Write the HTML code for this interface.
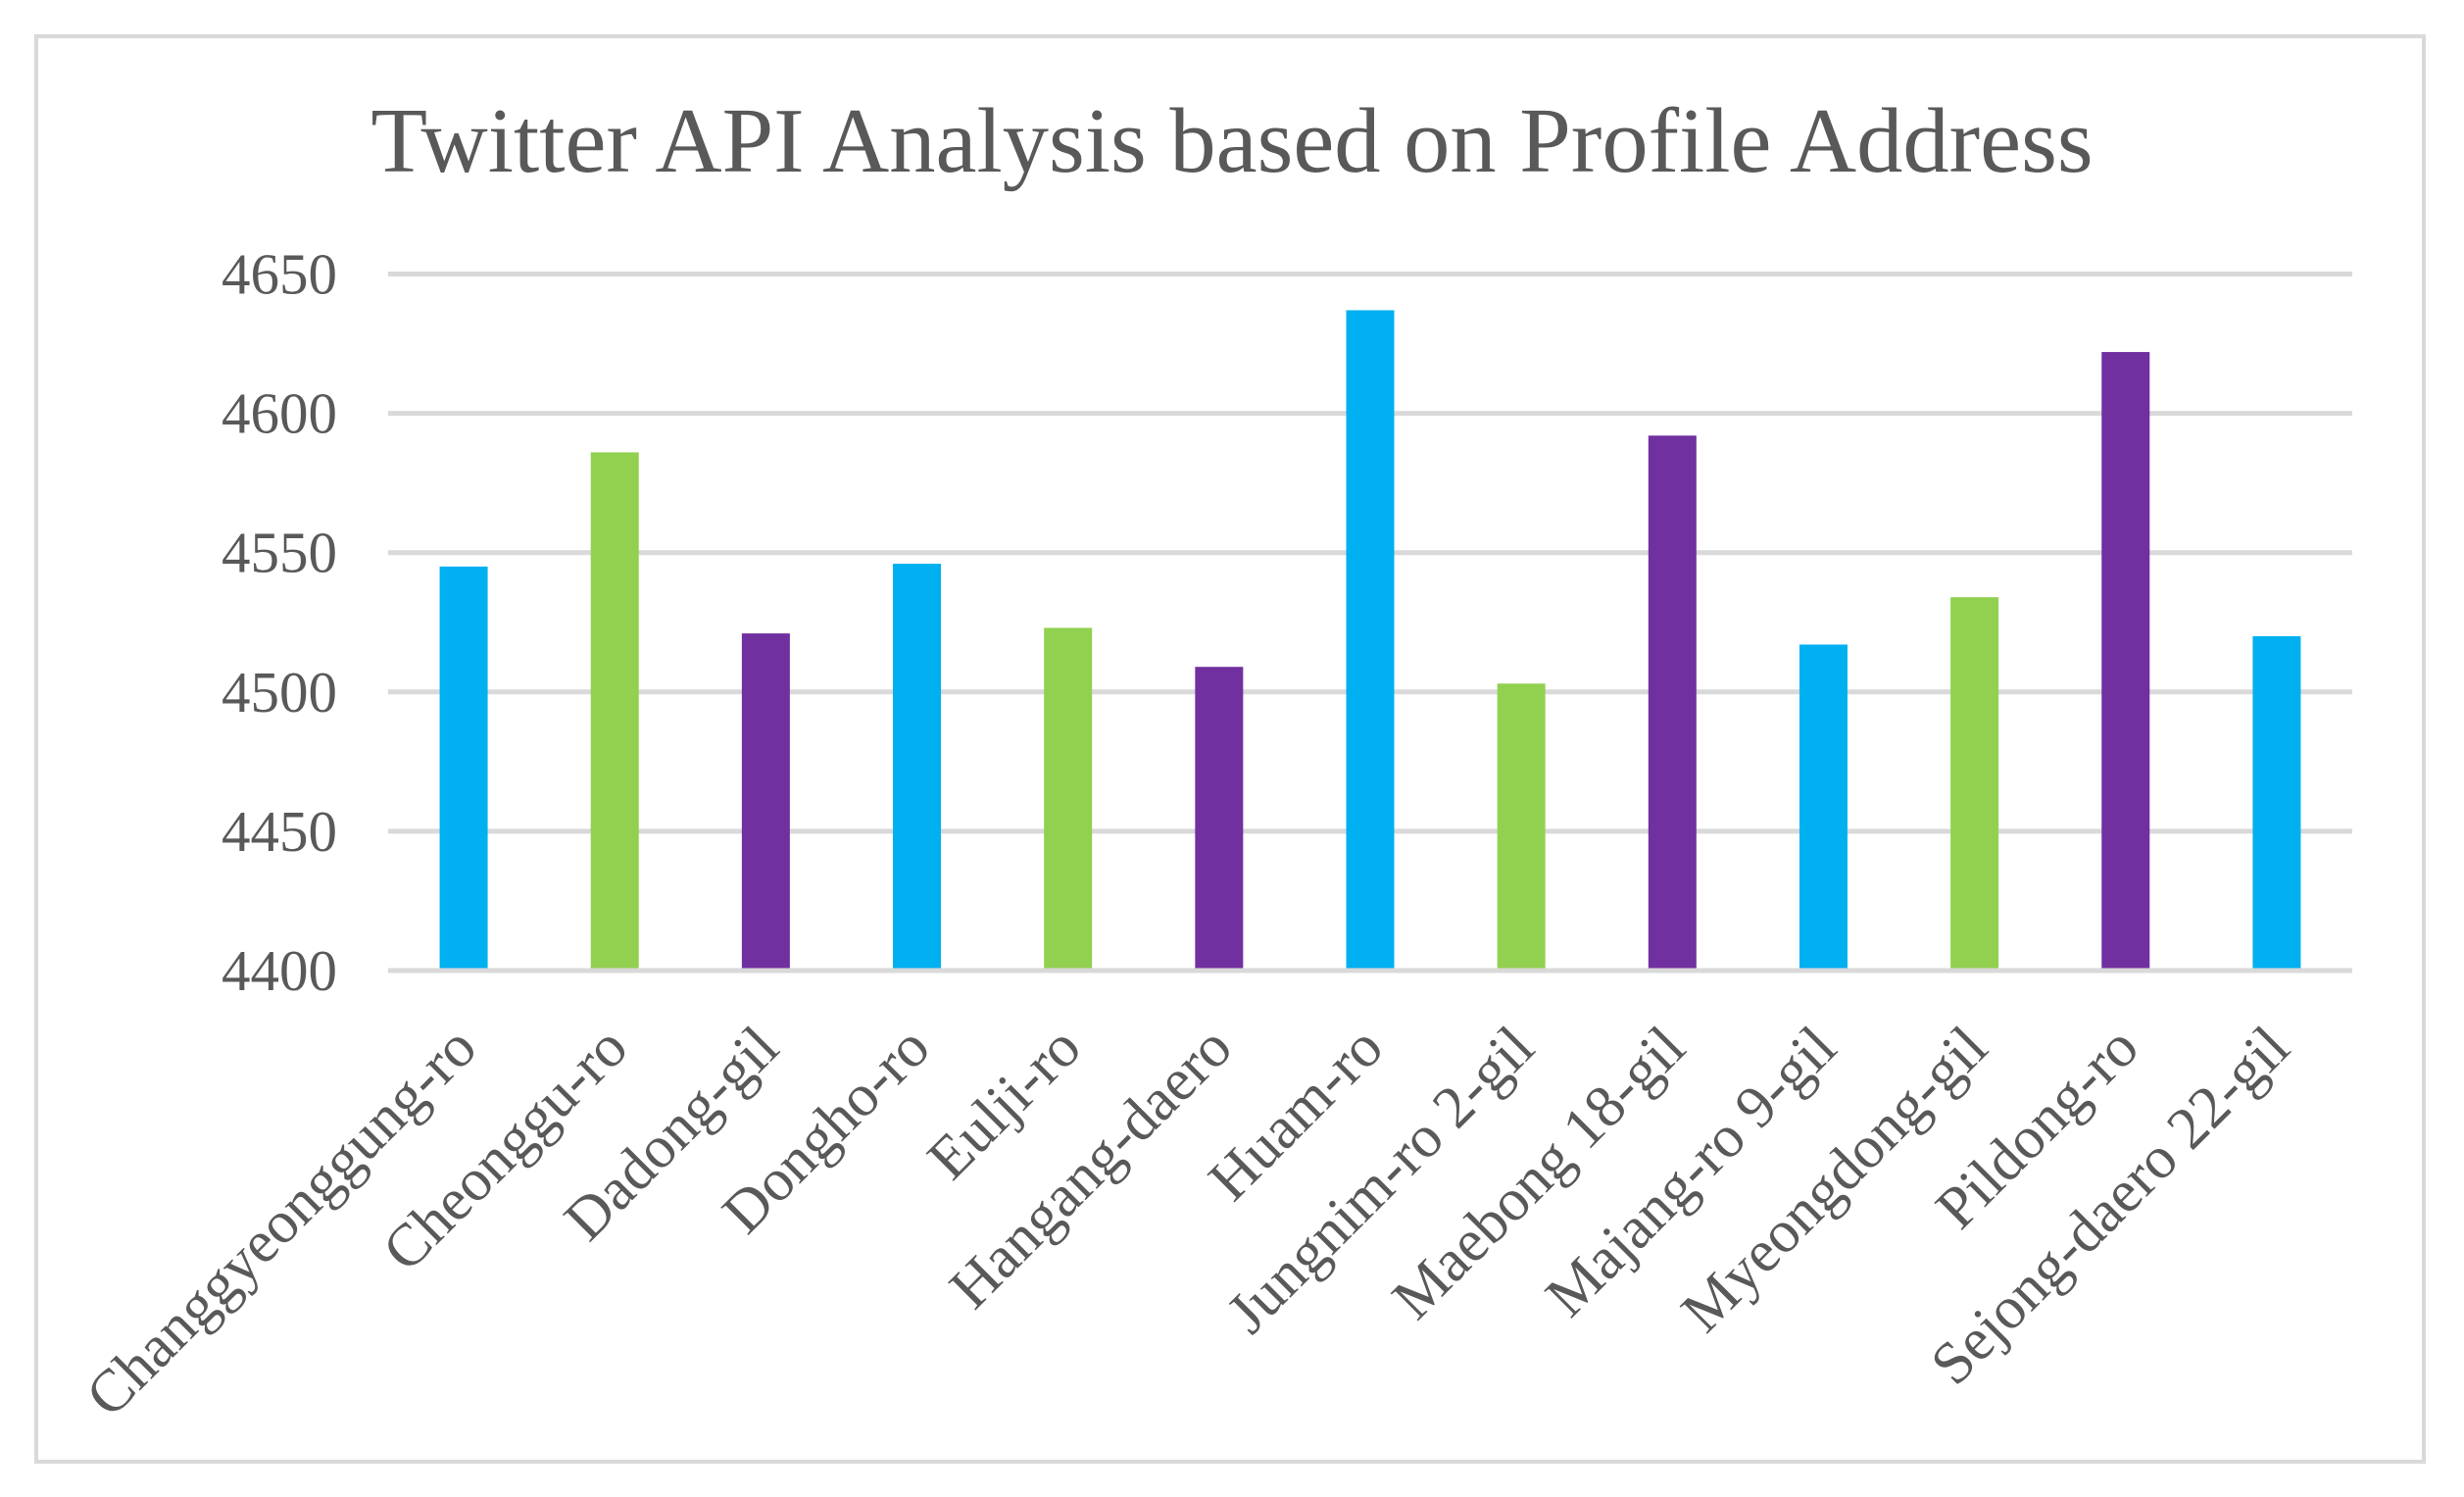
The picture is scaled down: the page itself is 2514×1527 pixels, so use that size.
<!DOCTYPE html>
<html><head><meta charset="utf-8"><style>
html,body{margin:0;padding:0;background:#fff;}
svg{display:block;}
text{font-family:"Liberation Serif",serif;fill:#595959;}
</style></head><body>
<svg id="chart" width="2514" height="1527" viewBox="0 0 2514 1527" xmlns="http://www.w3.org/2000/svg">
<rect x="37" y="37" width="2436" height="1454" fill="#fff" stroke="#d9d9d9" stroke-width="4"/>
<text x="1257" y="175" font-size="94.5" text-anchor="middle">Twitter API Analysis based on Profile Address</text>
<g id="grid"></g>
<g id="yaxis"></g>
<g id="bars"></g>
<g id="xaxis"></g>
</svg>
<script>
const categories = ["Changgyeonggung-ro","Cheonggu-ro","Dadong-gil","Dongho-ro","Eulji-ro","Hangang-daero","Huam-ro","Jungnim-ro 2-gil","Maebong 18-gil","Majang-ro 9-gil","Myeongdong-gil","Pildong-ro","Sejong-daero 22-gil"];
const values = [4545,4586,4521,4546,4523,4509,4637,4503,4592,4517,4534,4622,4520];
const barColors = ["#00b0f0","#92d050","#7030a0","#00b0f0","#92d050","#7030a0","#00b0f0","#92d050","#7030a0","#00b0f0","#92d050","#7030a0","#00b0f0"];
const yTicks = [4400,4450,4500,4550,4600,4650];

const NS="http://www.w3.org/2000/svg";
const L=396,R=2400,T=279.5,B=990,yMin=4400,yMax=4650;
const band=(R-L)/categories.length, bw=49;
function y(v){return B-(v-yMin)/(yMax-yMin)*(B-T);}
function x(i){return L+band*(i+0.5);}
function mk(tag,attrs,parent){const e=document.createElementNS(NS,tag);for(const k in attrs)e.setAttribute(k,attrs[k]);parent.appendChild(e);return e;}
const grid=document.getElementById('grid'),ya=document.getElementById('yaxis'),bars=document.getElementById('bars'),xa=document.getElementById('xaxis');
yTicks.forEach(t=>{
  const ln=mk('line',{x1:L,x2:R,y1:y(t),y2:y(t),stroke:'#d9d9d9','stroke-width':5},grid);
  
  
  const tx=mk('text',{x:344,y:y(t)+20,'font-size':59,'text-anchor':'end'},ya);
  tx.textContent=t;
  
  
});
values.forEach((v,i)=>{
  const r=mk('rect',{x:x(i)-bw/2,y:y(v),width:bw,height:B-2.5-y(v),fill:barColors[i]},bars);
  
  
});
categories.forEach((c,i)=>{
  const px=x(i)+16,py=1072;
  const tx=mk('text',{x:px,y:py,'font-size':61,'text-anchor':'end',transform:`rotate(-45 ${px} ${py})`},xa);
  tx.textContent=c;
  
  
});
</script>
</body></html>
